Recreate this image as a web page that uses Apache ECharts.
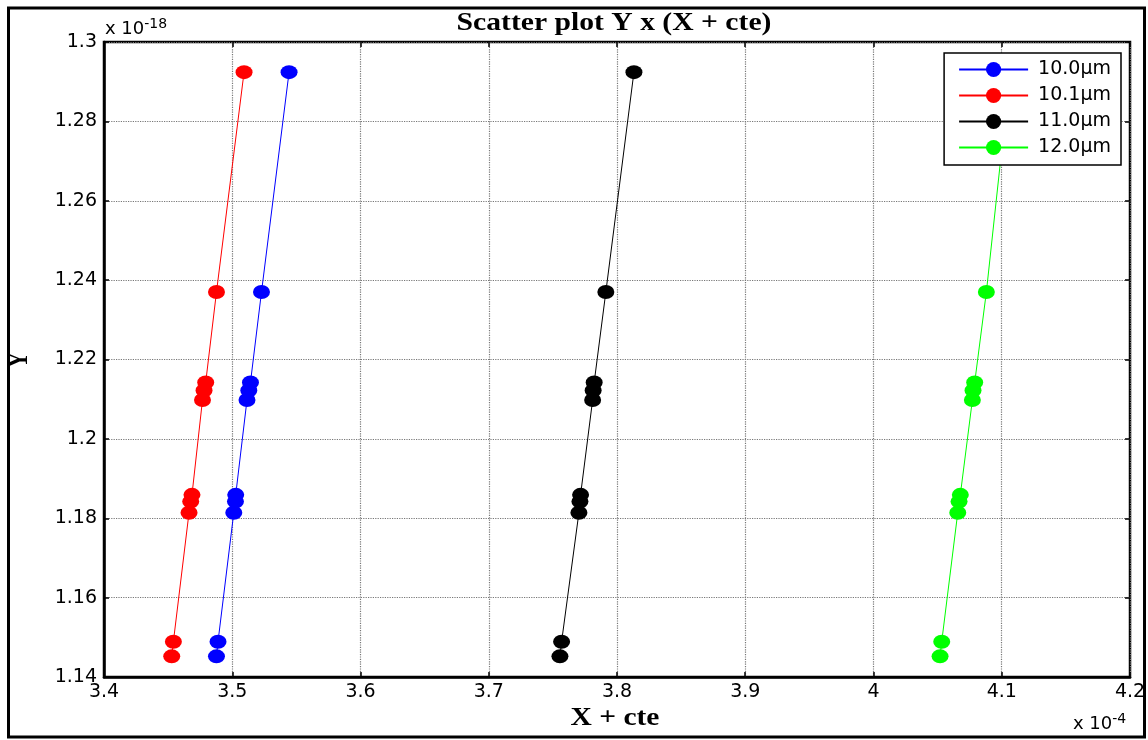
<!DOCTYPE html>
<html>
<head>
<meta charset="utf-8">
<script src="https://cdn.jsdelivr.net/npm/echarts@6/dist/echarts.min.js"></script>
<style>html,body{margin:0;padding:0;background:#fff}#c{width:1148px;height:740px}</style>
</head>
<body>
<div id="c"></div>
<script>
// Y values (x 1e-18), shared by all series
const yVals = [1.1452, 1.1489, 1.1814, 1.1842, 1.1859, 1.2098, 1.2122, 1.2142, 1.2370, 1.2924];
// X + cte values (x 1e-4)
const x100 = [3.4877, 3.4889, 3.5012, 3.5025, 3.5027, 3.5115, 3.5129, 3.5142, 3.5228, 3.5443];
const x101 = [3.4528, 3.4541, 3.4663, 3.4676, 3.4686, 3.4768, 3.4780, 3.4793, 3.4877, 3.5092];
const x110 = [3.7555, 3.7568, 3.7703, 3.7711, 3.7716, 3.7810, 3.7814, 3.7822, 3.7913, 3.8132];
const x120 = [4.0519, 4.0532, 4.0657, 4.0667, 4.0677, 4.0771, 4.0776, 4.0789, 4.0880, 4.1065];
const seriesNames = ['10.0\u03bcm', '10.1\u03bcm', '11.0\u03bcm', '12.0\u03bcm'];
const seriesX = [x100, x101, x110, x120];
const seriesColors = ['#0000ff', '#ff0000', '#000000', '#00ff00'];
const xTicks = {min: 3.4, max: 4.2, step: 0.1};
const yTicks = {min: 1.14, max: 1.30, step: 0.02};
const titleText = 'Scatter plot Y x (X + cte)';
const xName = 'X + cte';
const yName = 'Y';

const chart = echarts.init(document.getElementById('c'));
const fmt = v => String(+(+v).toFixed(2));
const labelFont = 'DejaVu Sans, Arial, sans-serif';
const serif = 'Liberation Serif, Times New Roman, serif';

const series = seriesNames.map((n, i) => ({
  name: n,
  type: 'line',
  data: seriesX[i].map((x, j) => [x, yVals[j]]),
  symbol: 'circle',
  symbolSize: [17, 14],
  showSymbol: true,
  color: seriesColors[i],
  lineStyle: {width: 1, color: seriesColors[i]},
  itemStyle: {color: seriesColors[i]},
  animation: false,
  z: 3
}));

const hiddenAxis = (pos, t) => ({
  type: 'value', position: pos, min: t.min, max: t.max, interval: t.step,
  axisLine: {show: false}, axisLabel: {show: false}, splitLine: {show: false},
  axisTick: {show: true, inside: true, length: 5, lineStyle: {color: '#000', width: 1.5}}
});

chart.setOption({
  animation: false,
  backgroundColor: '#fff',
  grid: {left: 104, top: 42, width: 1026, height: 635, show: true, borderColor: '#000', borderWidth: 2.5,
         backgroundColor: 'transparent', containLabel: false, outerBoundsMode: 'none'},
  xAxis: [{
    type: 'value', min: xTicks.min, max: xTicks.max, interval: xTicks.step,
    axisLine: {show: true, onZero: false, lineStyle: {color: '#000', width: 2.5}},
    axisTick: {show: true, inside: true, length: 5, lineStyle: {color: '#000', width: 1.5}},
    axisLabel: {formatter: fmt, fontFamily: labelFont, fontSize: 19, color: '#000', margin: 6},
    splitLine: {show: true, lineStyle: {color: '#777', width: 1.2, type: 'dotted'}}
  }, hiddenAxis('top', xTicks)],
  yAxis: [{
    type: 'value', min: yTicks.min, max: yTicks.max, interval: yTicks.step,
    axisLine: {show: true, onZero: false, lineStyle: {color: '#000', width: 2.5}},
    axisTick: {show: true, inside: true, length: 5, lineStyle: {color: '#000', width: 1.5}},
    axisLabel: {formatter: fmt, fontFamily: labelFont, fontSize: 19, color: '#000', margin: 7},
    splitLine: {show: true, lineStyle: {color: '#777', width: 1.2, type: 'dotted'}}
  }, hiddenAxis('right', yTicks)],
  legend: {
    orient: 'vertical', right: 27, top: 53,
    backgroundColor: '#fff', borderColor: '#000', borderWidth: 1.5, borderRadius: 0,
    padding: [7, 10, 8, 14], itemGap: 7, itemWidth: 69, itemHeight: 19,
    textStyle: {fontFamily: labelFont, fontSize: 19, color: '#000', padding: [0, 0, 0, 5]},
    data: seriesNames, z: 10
  },
  graphic: [
    {type: 'rect', shape: {x: 8.5, y: 8, width: 1136, height: 729}, style: {fill: 'none', stroke: '#000', lineWidth: 3}, silent: true, z: 0},
    {type: 'text', x: 614, y: 23, scaleX: 1.14, style: {text: titleText, font: 'bold 26px ' + serif, fill: '#000', textAlign: 'center', textVerticalAlign: 'middle'}},
    {type: 'text', x: 615, y: 719, scaleX: 1.18, style: {text: xName, font: 'bold 25px ' + serif, fill: '#000', textAlign: 'center', textVerticalAlign: 'middle'}},
    {type: 'text', x: 20, y: 360, rotation: Math.PI / 2, scaleY: 1.3, style: {text: yName, font: 'bold 22px ' + serif, fill: '#000', textAlign: 'center', textVerticalAlign: 'middle'}},
    {type: 'text', x: 105, y: 17, style: {text: 'x 10{s|-18}', font: '18px ' + labelFont, fill: '#000', rich: {s: {fontSize: 14, fontFamily: labelFont, verticalAlign: 'top', padding: [0, 0, 11, 0]}}}},
    {type: 'text', x: 1073, y: 712, style: {text: 'x 10{s|-4}', font: '18px ' + labelFont, fill: '#000', rich: {s: {fontSize: 14, fontFamily: labelFont, verticalAlign: 'top', padding: [0, 0, 11, 0]}}}}
  ],
  series: series
});
</script>
</body>
</html>
